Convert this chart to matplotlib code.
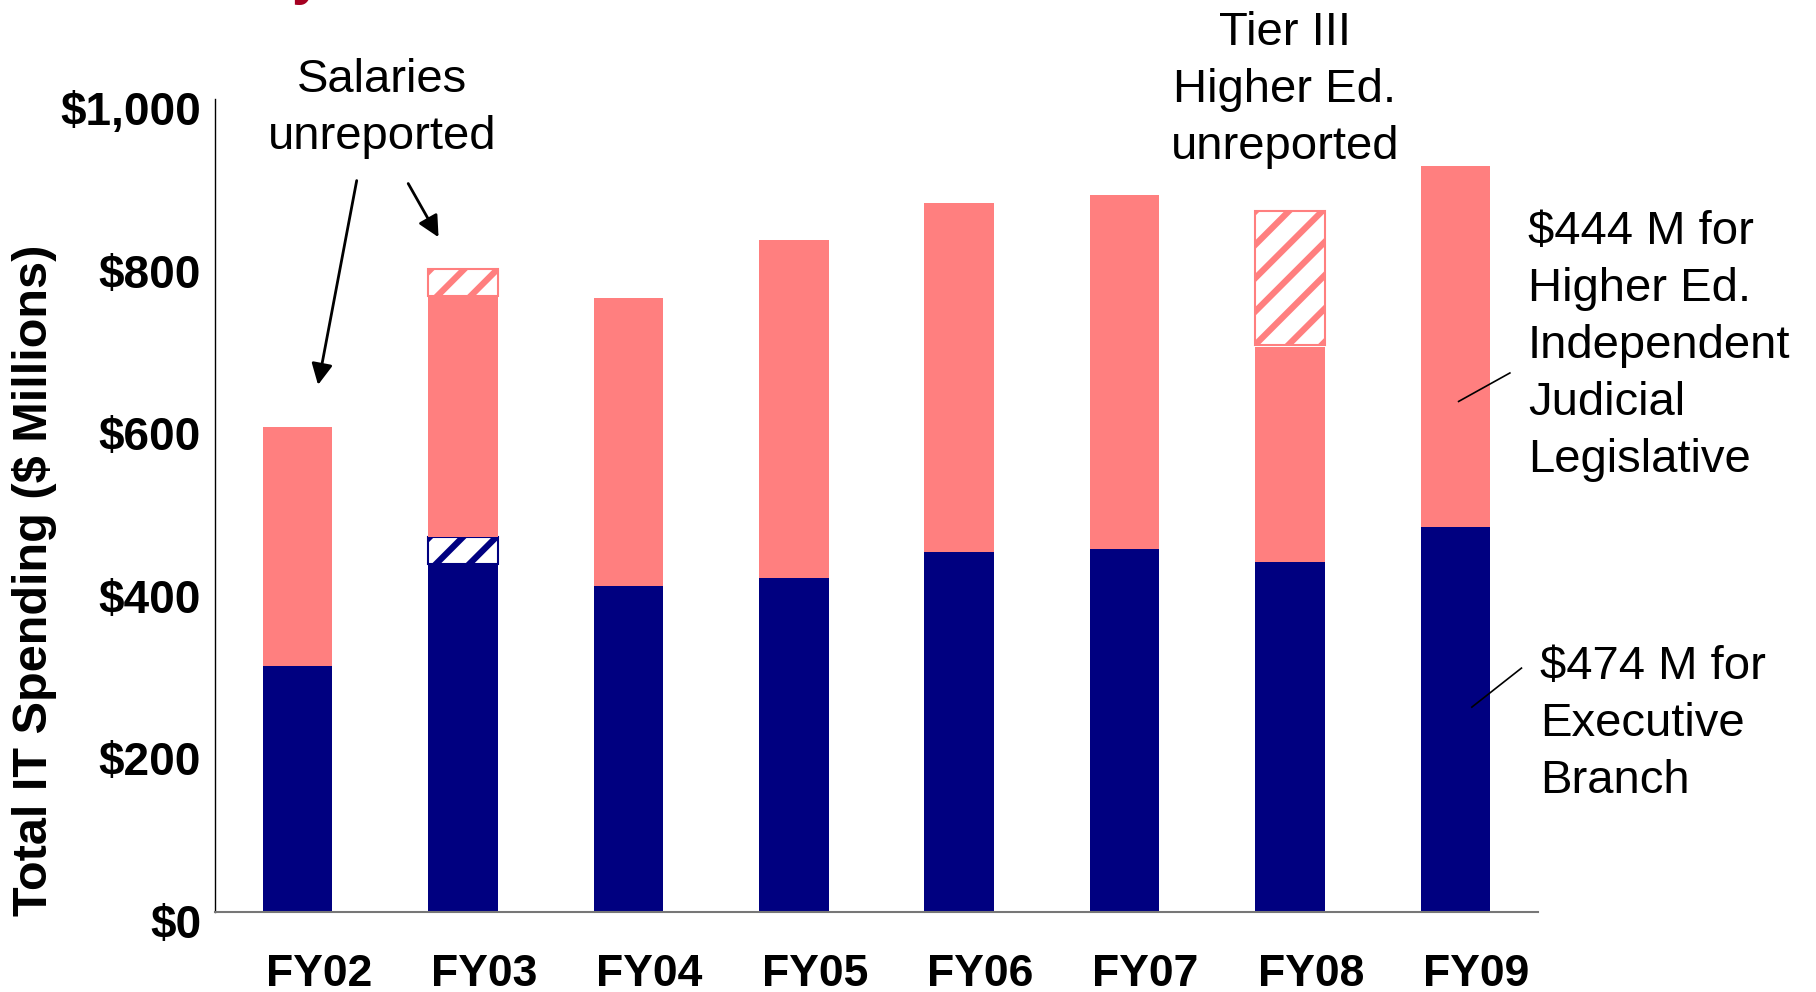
import matplotlib.pyplot as plt
import numpy as np
from matplotlib import font_manager
from matplotlib.transforms import ScaledTranslation

# values ($ millions)
years = ["FY02", "FY03", "FY04", "FY05", "FY06", "FY07", "FY08", "FY09"]
executive = [302, 428, 401, 411, 443, 447, 430, 474]
executive_unreported = [0, 33, 0, 0, 0, 0, 0, 0]
other = [294, 295, 354, 415, 429, 435, 265, 444]
other_unreported = [0, 35, 0, 0, 0, 0, 167, 0]
yticks = [0, 200, 400, 600, 800, 1000]
ytick_labels = ["$0", "$200", "$400", "$600", "$800", "$1,000"]

NAVY = "#000080"
PINK = "#FF7F7F"
W, H = 1816, 992

names = {f.name for f in font_manager.fontManager.ttflist}
SANS = "Liberation Sans" if "Liberation Sans" in names else "DejaVu Sans"
NARROW = "Liberation Sans Narrow" if "Liberation Sans Narrow" in names else SANS

plt.rcParams.update({"font.family": SANS, "hatch.linewidth": 4.5})

fig = plt.figure(figsize=(W / 100, H / 100), dpi=100)
ax = fig.add_axes([215 / W, 80 / H, 1323 / W, 813 / H])

x = np.arange(len(years))
bw = 0.42
ex = np.array(executive, dtype=float)
exu = np.array(executive_unreported, dtype=float)
ot = np.array(other, dtype=float)
otu = np.array(other_unreported, dtype=float)

ax.bar(x, ex, bw, color=NAVY, linewidth=0)
m = exu > 0
ax.bar(x[m], exu[m], bw, bottom=ex[m], facecolor="white", edgecolor=NAVY,
       hatch="/", linewidth=1.5)
ax.bar(x, ot, bw, bottom=ex + exu, color=PINK, linewidth=0)
m = otu > 0
ax.bar(x[m], otu[m] - 2, bw, bottom=(ex + exu + ot)[m] + 2, facecolor="white",
       edgecolor=PINK, hatch="/", linewidth=1.5)

ax.set_xlim(-0.5, len(years) - 0.5)
ax.set_ylim(0, 1000)
ax.set_yticks(yticks)
ax.set_yticklabels(ytick_labels, fontsize=33, fontweight="bold")
ax.set_xticks(x)
ax.set_xticklabels(years, fontsize=32, fontweight="bold")
ax.tick_params(axis="y", length=0, pad=10)
ax.tick_params(axis="x", length=0, pad=30)
# labels in the reference sit a little right / below their ticks
for lab in ax.get_xticklabels():
    lab.set_transform(lab.get_transform() + ScaledTranslation(0.21, 0, fig.dpi_scale_trans))
for lab in ax.get_yticklabels():
    lab.set_transform(lab.get_transform() + ScaledTranslation(0, -0.09, fig.dpi_scale_trans))
for s in ("top", "right"):
    ax.spines[s].set_visible(False)
ax.spines["left"].set_color("black")
ax.spines["left"].set_linewidth(1.0)
ax.spines["bottom"].set_color("#777777")
ax.spines["bottom"].set_linewidth(1.5)

fig.text(35 / W, 1 - 580 / H, "Total IT Spending ($ Millions)", rotation=90,
         ha="center", va="center", fontsize=35, fontweight="bold", family=NARROW)

# annotations
ax.text(0.51, 988, "Salaries\nunreported", ha="center", va="center",
        fontsize=34, linespacing=1.38, clip_on=False)
arrow = dict(arrowstyle="-|>", color="black", lw=2, mutation_scale=32)
ax.annotate("", xy=(0.12, 645), xytext=(0.36, 903), arrowprops=arrow,
            annotation_clip=False)
ax.annotate("", xy=(0.86, 827), xytext=(0.66, 899), arrowprops=arrow,
            annotation_clip=False)

ax.text(5.97, 1011, "Tier III\nHigher Ed.\nunreported", ha="center", va="center",
        fontsize=34, linespacing=1.38, clip_on=False)

ax.text(7.44, 863, "$444 M for\nHigher Ed.\nIndependent\nJudicial\nLegislative",
        ha="left", va="top", fontsize=34, linespacing=1.38, clip_on=False)
ax.plot([7.02, 7.33], [628, 663], color="black", lw=1.2, clip_on=False)

ax.text(7.51, 328, "$474 M for\nExecutive\nBranch",
        ha="left", va="top", fontsize=34, linespacing=1.38, clip_on=False)
ax.plot([7.10, 7.40], [252, 300], color="black", lw=1.2, clip_on=False)

# clipped title remnant at the very top
fig.text(292 / W, 1 + 7 / H, "y", color="#A50021", fontsize=40,
         fontweight="bold", ha="left", va="baseline")

fig.savefig("out.png", dpi=100)
